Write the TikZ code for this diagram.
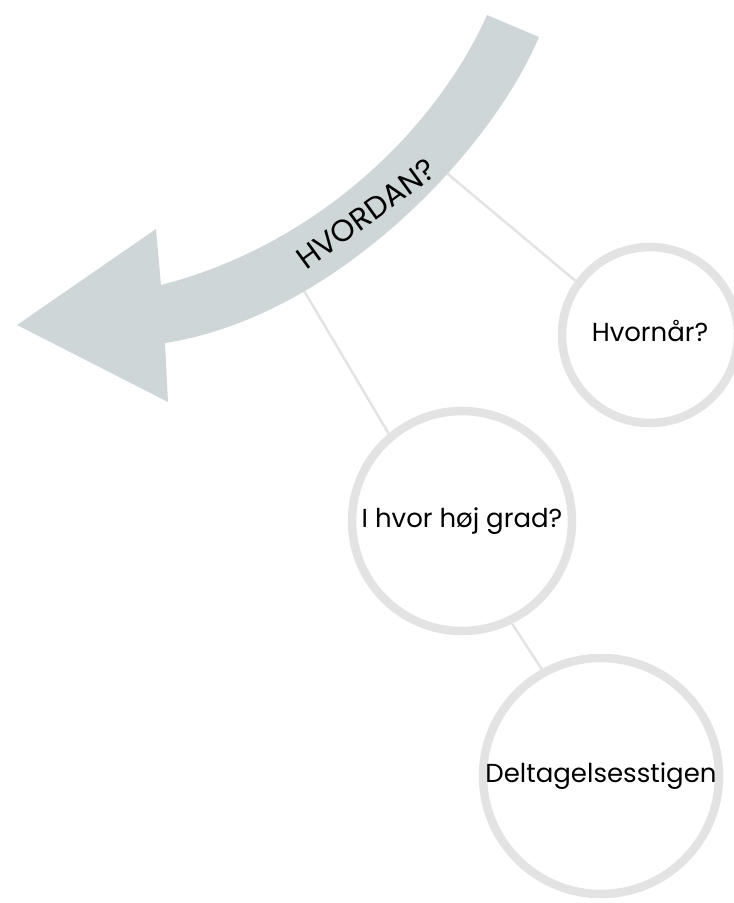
\documentclass[tikz,border=0pt]{standalone}
\usepackage{fontspec}
\setmainfont{Poppins}
\definecolor{arrowgray}{HTML}{CFD6D8}
\definecolor{ringgray}{HTML}{E3E3E3}
\definecolor{linegray}{HTML}{E3E3E3}
\begin{document}
\begin{tikzpicture}[x=1pt,y=-1pt,
  ring/.style={circle, draw=ringgray, line width=8.5pt, fill=white, inner sep=0pt, text=black,
    font=\fontsize{26}{31}\selectfont, text height=1.3em, text depth=0pt},
  conn/.style={draw=linegray, line width=2.5pt},
  bigarrow/.style={fill=arrowgray}]
\useasboundingbox (0,0) rectangle (734,903);
% circles
\node[ring, minimum size=176pt] (hvornar) at (650,335) {Hvornår?};
\node[ring, minimum size=220pt] (ihvor) at (462,521) {I hvor høj grad?};
\node[ring, minimum size=236pt] (delt) at (601,776) {Deltagelsesstigen};
% connector start points (hidden under the arrow)
\coordinate (sA) at (430,159);
\coordinate (sB) at (300,284);
\draw[conn] (sA) -- (hvornar.144);
\draw[conn] (sB) -- (ihvor.130);
\draw[conn] (ihvor.-64) -- (delt.119);
% curved arrow
\fill[bigarrow] (487,15) -- (539,37)
  .. controls (488,157) and (330,318) .. (165,343)
  -- (168,402) -- (17,325) -- (156,229) -- (161,285)
  .. controls (317,245) and (436,129) .. (487,15) -- cycle;
\node[rotate=36, font=\fontsize{30.5}{35}\selectfont, inner sep=0pt] (hvordan) at (366,214) {HVORDAN?};
\end{tikzpicture}
\end{document}
